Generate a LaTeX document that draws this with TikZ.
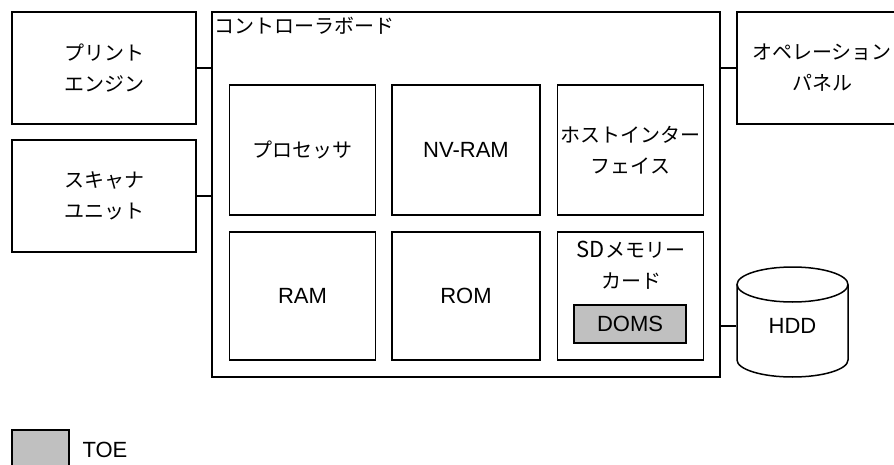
\documentclass[tikz,border=0pt]{standalone}
\usepackage{fontspec}
\setmainfont{Liberation Sans}
\newfontfamily\jp{Noto Sans CJK JP}
\usetikzlibrary{positioning,calc}
\definecolor{toegray}{RGB}{192,192,192}
\newcommand{\jfont}{\jp\fontsize{20}{31}\selectfont}
\newcommand{\efont}{\fontsize{22}{31}\selectfont}

\begin{document}
\begin{tikzpicture}[x=1pt,y=-1pt,line width=1.5pt]
\tikzstyle{box}=[draw,rectangle,align=center,inner sep=0pt]
\tikzstyle{jbox}=[box,font=\jfont]
\tikzstyle{ebox}=[box,font=\efont]
\tikzstyle{part}=[minimum width=146pt,minimum height=130pt]
\path[use as bounding box,clip] (0,0) rectangle (894,465);
% outer units
\node[jbox,minimum width=184pt,minimum height=112pt] (print) at (104,68) {プリント\\エンジン};
\node[jbox,minimum width=184pt,minimum height=112pt] (scanner) at (104,196) {スキャナ\\ユニット};
\node[jbox,minimum width=170pt,minimum height=112pt] (panel) at (822,68) {オペレーション\\パネル};
% controller board
\node[box,minimum width=508pt,minimum height=365pt] (board) at (466,194.5) {};
\node[font=\jfont,anchor=north west,inner xsep=2pt,inner ysep=5pt] (boardname) at (board.north west) {コントローラボード};
\node[jbox,part] (cpu) at (302.5,150) {プロセッサ};
\node[ebox,part,minimum width=148pt] (nvram) at (466,150) {NV-RAM};
\node[jbox,part] (hostif) at (630.5,150) {ホストインター\\フェイス};
\node[ebox,part,minimum height=128pt] (ram) at (302.5,296) {RAM};
\node[ebox,part,minimum width=148pt,minimum height=128pt] (rom) at (466,296) {ROM};
\node[box,part,minimum height=128pt] (sdcard) at (630.5,296) {};
\node[font=\jfont,align=center,inner sep=0pt] (sdname) at (631,265) {{\efont SD}メモリー\\カード};
\node[ebox,fill=toegray,minimum width=112pt,minimum height=38pt] (doms) at (630,324) {DOMS};
% hdd
\node[font=\efont,minimum width=111pt,minimum height=102pt,inner sep=0pt] (hdd) at (792.5,326) {HDD};
\draw (737,284.5) -- (737,360) arc[start angle=180,end angle=0,x radius=55.5,y radius=17] -- (848,284.5);
\draw (792.5,284.5) ellipse [x radius=55.5,y radius=17.5];
% links
\draw (print.east) -- (print.east -| board.west);
\draw (scanner.east) -- (scanner.east -| board.west);
\draw (panel.west) -- (panel.west -| board.east);
\draw (hdd.west) -- (hdd.west -| board.east);
% legend
\node[box,fill=toegray,minimum width=57pt,minimum height=40pt] (toebox) at (40.5,450) {};
\node[font=\efont,inner sep=0pt,right=12pt of toebox] (toename) {TOE};
\end{tikzpicture}
\end{document}
